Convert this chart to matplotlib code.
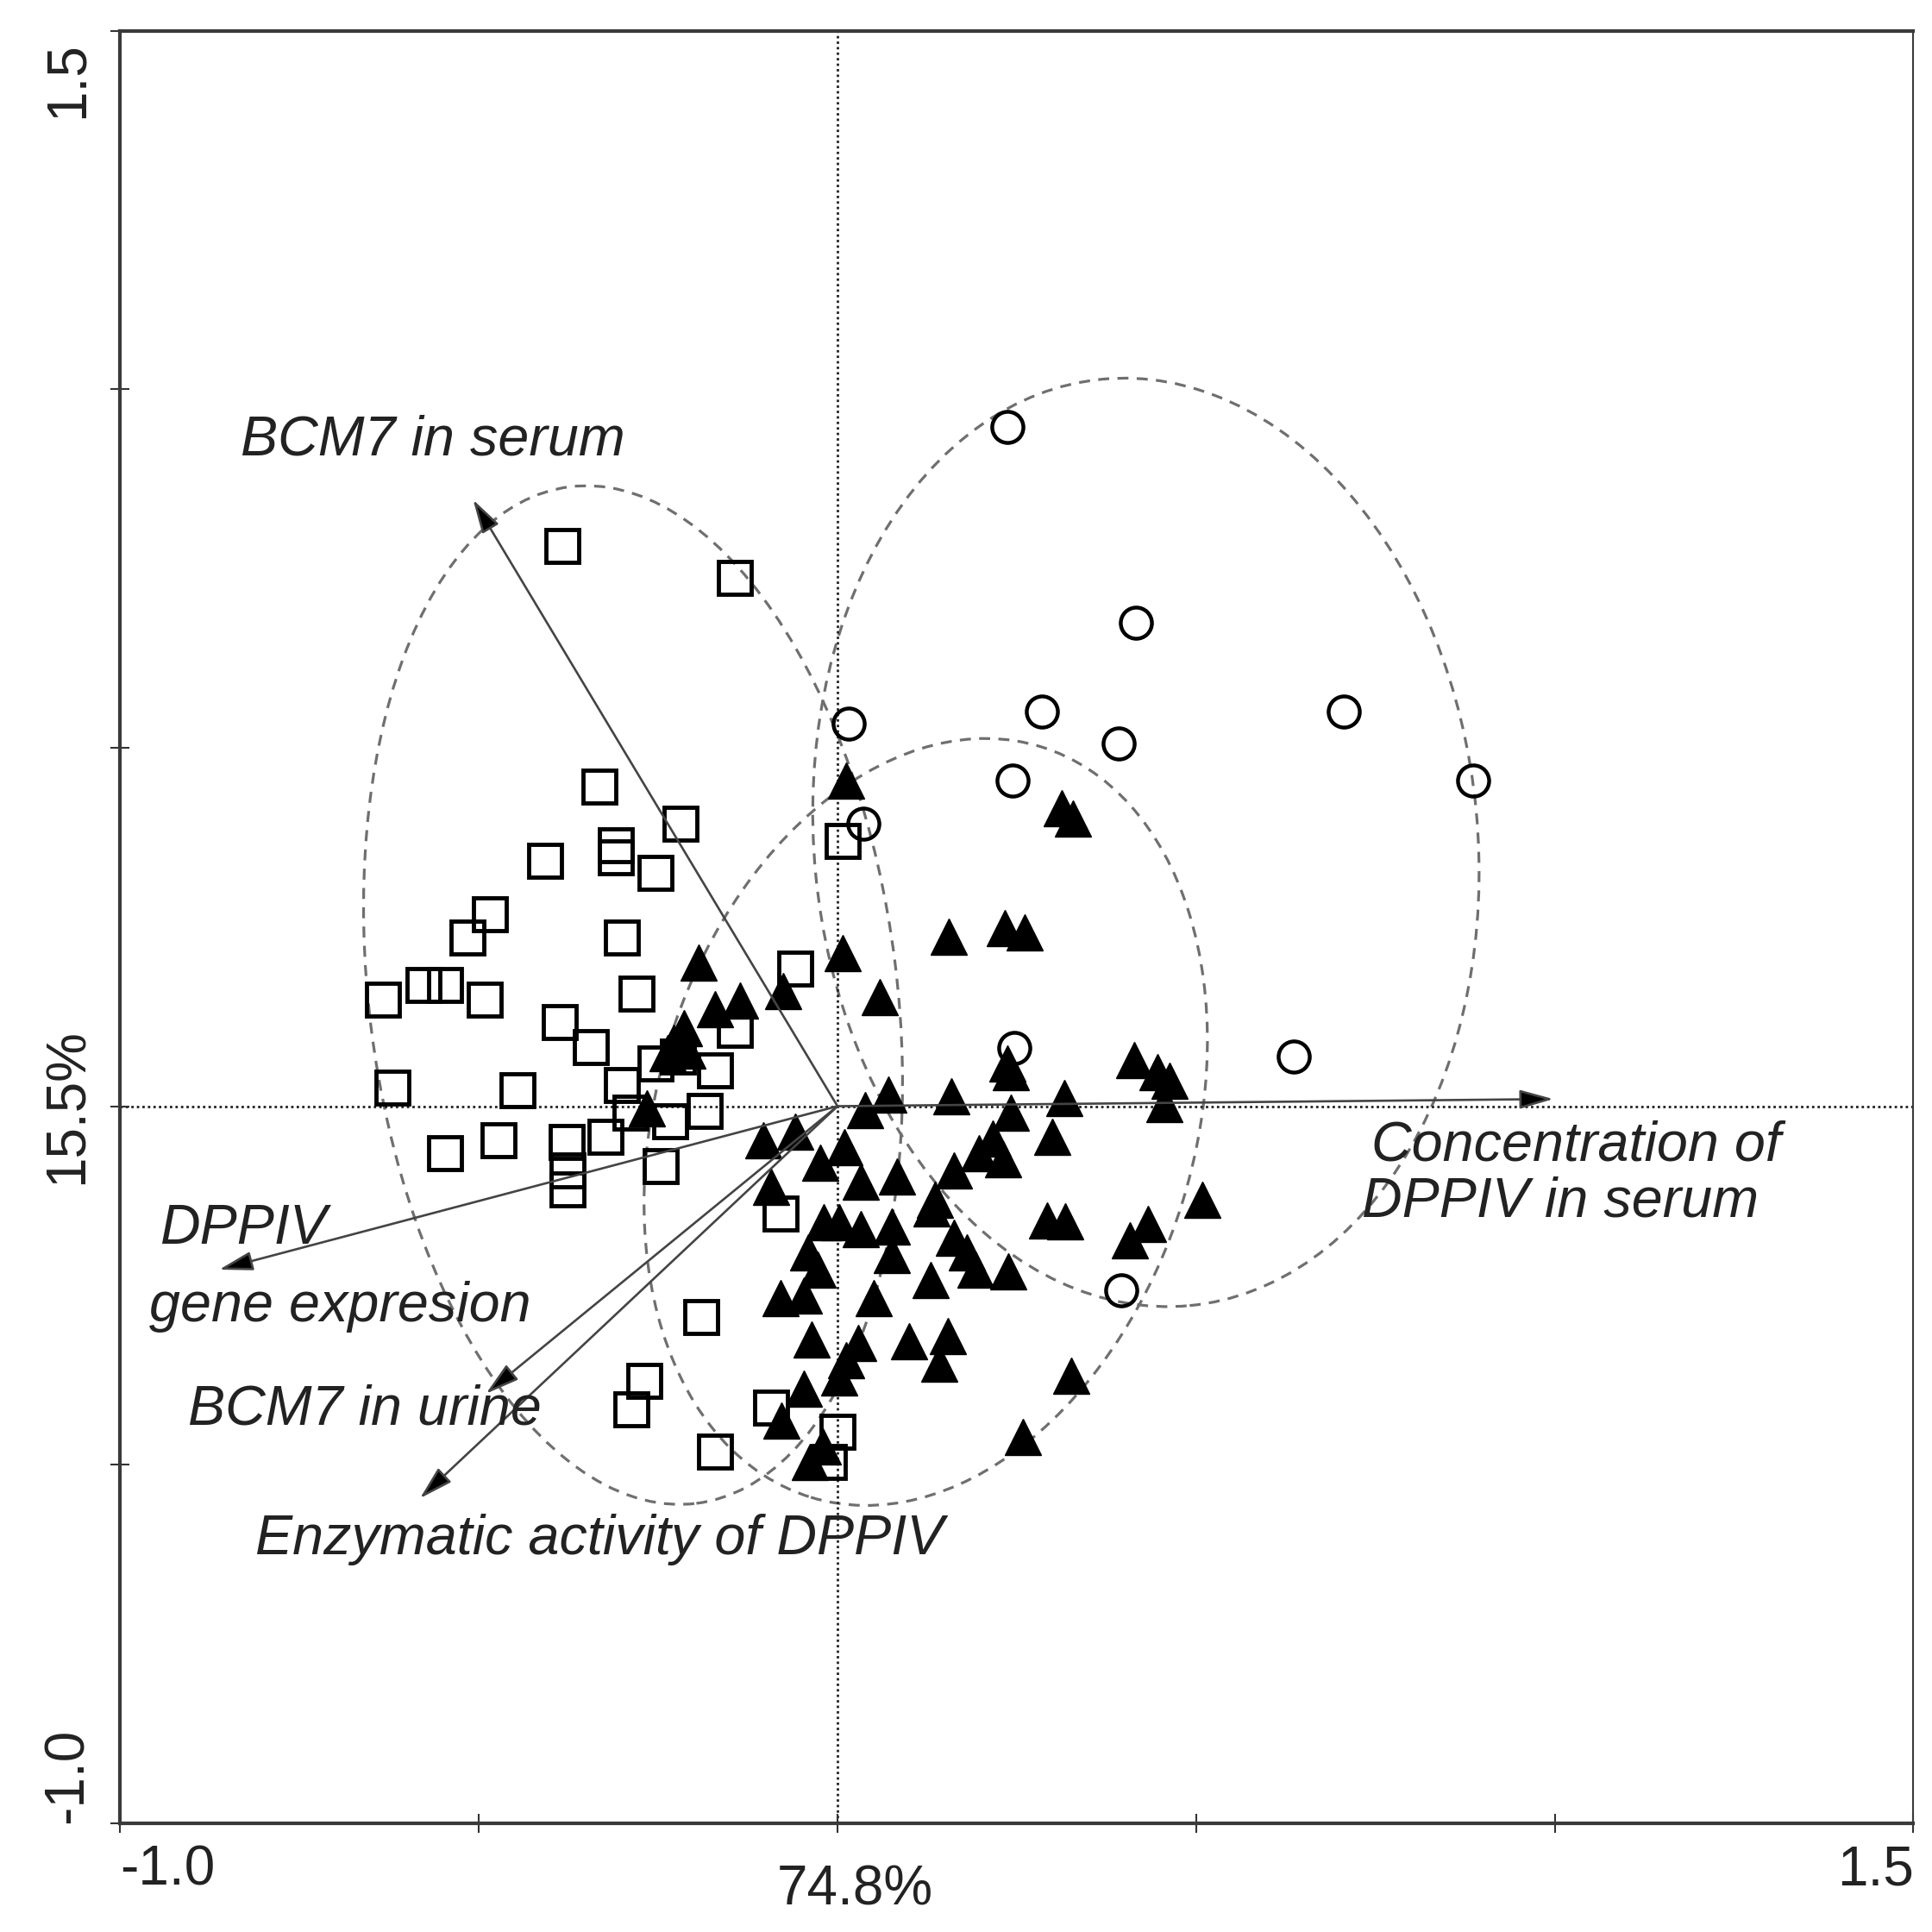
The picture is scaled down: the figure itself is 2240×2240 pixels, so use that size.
import numpy as np
import matplotlib
matplotlib.use("Agg")
import matplotlib.pyplot as plt
from matplotlib.patches import Ellipse

# group 1 - open squares
sq_x = [-0.383, -0.143, -0.332, -0.219, -0.408, -0.309, -0.309, -0.254, 0.007, -0.484,
        -0.516, -0.301, -0.059, -0.634, -0.577, -0.547, -0.492, -0.280, -0.387, -0.344,
        -0.143, -0.254, -0.171, -0.620, -0.446, -0.301, -0.223, -0.288, -0.233, -0.185,
        -0.547, -0.473, -0.378, -0.323, -0.376, -0.376, -0.247, -0.079, -0.190, -0.269,
        -0.287, -0.092, -0.171, 0.000, -0.012]
sq_y = [0.781, 0.737, 0.446, 0.394, 0.342, 0.364, 0.347, 0.326, 0.370, 0.268,
        0.235, 0.235, 0.192, 0.149, 0.169, 0.169, 0.149, 0.157, 0.117, 0.083,
        0.107, 0.060, 0.050, 0.026, 0.022, 0.029, 0.069, -0.009, -0.021, -0.007,
        -0.066, -0.047, -0.050, -0.043, -0.090, -0.116, -0.083, -0.150, -0.294, -0.383,
        -0.423, -0.420, -0.482, -0.454, -0.496]

# group 2 - filled triangles
tri_x = [0.012, 0.313, 0.328, 0.155, 0.233, 0.261, 0.007, -0.193, 0.059, -0.076,
         -0.136, -0.171, -0.214, -0.228, -0.209, -0.237, 0.237, 0.242, 0.414, 0.446,
         0.463, 0.456, -0.266, -0.104, -0.059, -0.024, 0.010, 0.038, 0.071, 0.159,
         0.242, 0.316, 0.300, 0.216, 0.197, 0.231, 0.162, 0.136, 0.131, 0.033,
         0.083, 0.292, 0.318, 0.509, 0.433, 0.408, -0.019, 0.002, 0.033, 0.076,
         -0.041, -0.028, 0.076, 0.162, 0.180, 0.192, 0.238, 0.130, -0.079, -0.047,
         0.050, -0.036, 0.029, 0.012, 0.002, 0.100, 0.154, 0.142, 0.326, -0.047,
         -0.078, 0.259, -0.038, -0.021, -0.092]
tri_y = [0.454, 0.416, 0.401, 0.237, 0.249, 0.242, 0.214, 0.200, 0.152, 0.161,
         0.147, 0.135, 0.109, 0.088, 0.078, 0.074, 0.060, 0.048, 0.064, 0.047,
         0.036, 0.003, -0.003, -0.047, -0.035, -0.079, -0.057, -0.005, 0.016, 0.014,
         -0.009, 0.012, -0.043, -0.045, -0.066, -0.074, -0.090, -0.130, -0.143, -0.105,
         -0.098, -0.159, -0.161, -0.130, -0.164, -0.187, -0.162, -0.162, -0.171, -0.168,
         -0.204, -0.228, -0.207, -0.183, -0.204, -0.228, -0.230, -0.242, -0.268, -0.264,
         -0.268, -0.325, -0.330, -0.354, -0.378, -0.328, -0.321, -0.359, -0.376, -0.394,
         -0.439, -0.461, -0.496, -0.475, -0.112]

# group 3 - open circles
circ_x = [0.237, 0.416, 0.016, 0.285, 0.392, 0.706, 0.886, 0.244, 0.036, 0.247, 0.636, 0.396]
circ_y = [0.948, 0.674, 0.534, 0.551, 0.506, 0.551, 0.454, 0.454, 0.394, 0.081, 0.069, -0.257]

# variable arrows (end points)
arrow_x = [-0.508, 0.998, -0.862, -0.490, -0.582]
arrow_y = [0.846, 0.010, -0.228, -0.401, -0.547]

# group ellipses: centre x, centre y, width, height, angle
ell_cx = [-0.285, 0.430, 0.123]
ell_cy = [0.155, 0.368, -0.022]
ell_w = [0.736, 0.925, 0.750]
ell_h = [1.429, 1.298, 1.095]
ell_ang = [7.1, 5.4, -17.0]

labels = ["BCM7 in serum", "Concentration of", "DPPIV in serum", "DPPIV",
          "gene expresion", "BCM7 in urine", "Enzymatic activity of DPPIV"]
label_x = [-0.832, 0.744, 0.731, -0.945, -0.959, -0.905, -0.812]
label_y = [0.929, -0.055, -0.133, -0.171, -0.280, -0.423, -0.604]

fig = plt.figure(figsize=(22.4, 22.4), dpi=100)
ax = fig.add_axes([0.0622, 0.0564, 0.9282, 0.9276])
ax.set_xlim(-1.0, 1.5)
ax.set_ylim(-1.0, 1.5)

for i in range(3):
    e = Ellipse((ell_cx[i], ell_cy[i]), ell_w[i], ell_h[i], angle=ell_ang[i],
                fill=False, ec="#6f6f6f", lw=2.3, ls=(0, (4, 3)), zorder=1)
    ax.add_patch(e)

ax.axhline(0, color="#222222", lw=2, ls=(0, (1, 1.3)), zorder=1)
ax.axvline(0, color="#222222", lw=2, ls=(0, (1, 1.3)), zorder=1)

ax.plot(sq_x, sq_y, ls="none", marker="s", ms=28, mfc="none", mec="black", mew=3.5, zorder=3)
ax.plot(tri_x, tri_y, ls="none", marker="^", ms=30, mfc="black", mec="black", mew=1, zorder=3)
ax.plot(circ_x, circ_y, ls="none", marker="o", ms=26, mfc="none", mec="black", mew=3.2, zorder=3)

for i in range(len(arrow_x)):
    ax.annotate("", xy=(arrow_x[i], arrow_y[i]), xytext=(0, 0),
                arrowprops=dict(arrowstyle="-|>,head_length=0.6,head_width=0.17",
                                ec="#444444", fc="black", lw=1.9, mutation_scale=40,
                                shrinkA=0, shrinkB=0), zorder=4)

for i in range(len(labels)):
    ax.text(label_x[i], label_y[i], labels[i], ha="left", va="center", style="italic",
            fontsize=46.5, family="Liberation Sans", color="#222222", zorder=5)

# axis frame and ticks
for s in ax.spines.values():
    s.set_color("#3a3a3a")
    s.set_linewidth(3)
ax.spines["right"].set_linewidth(1.5)
ticks = [-1.0, -0.5, 0.0, 0.5, 1.0, 1.5]
ax.set_xticks(ticks)
ax.set_yticks(ticks)
ax.set_xticklabels([])
ax.set_yticklabels([])
ax.tick_params(direction="inout", length=16, width=1.5, color="#333333")

tick_font = dict(family="Liberation Sans", fontsize=46, color="#222222")
xt = ax.get_xaxis_transform()
yt = ax.get_yaxis_transform()
ax.text(-1.0, -0.012, "-1.0", transform=xt, ha="left", va="top", **tick_font)
ax.text(1.5, -0.012, "1.5", transform=xt, ha="right", va="top", **tick_font)
ax.text(0.025, -0.023, "74.8%", transform=xt, ha="center", va="top", **tick_font)
ax.text(-0.029, 1.485, "1.5", transform=yt, ha="center", va="top", rotation=90, **tick_font)
ax.text(-0.029, -1.0, "-1.0", transform=yt, ha="center", va="bottom", rotation=90, **tick_font)
ax.text(-0.029, 0.0, "15.5%", transform=yt, ha="center", va="center", rotation=90, **tick_font)

fig.savefig("out.png", dpi=100, facecolor="white")
